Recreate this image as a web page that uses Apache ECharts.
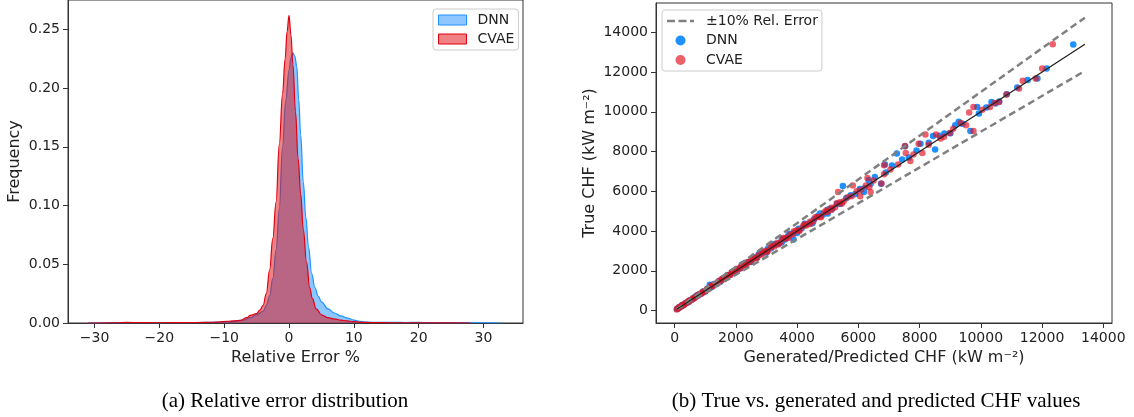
<!DOCTYPE html>
<html>
<head>
<meta charset="utf-8">
<script src="https://cdn.jsdelivr.net/npm/echarts@6.0.0/dist/echarts.min.js"></script>
<style>
html, body { margin: 0; padding: 0; background: #fff; }
#chart { width: 1134px; height: 417px; }
</style>
</head>
<body>
<div id="chart"></div>
<script>
// ---- (a) relative error density (KDE) ----
var dnnX = [-31, -28, -25, -22, -19, -16, -13, -11, -9, -7, -6, -5, -4, -3.5, -3, -2.5, -2, -1.5, -1, -0.5,
	0, 0.3, 0.6, 0.9, 1.2, 1.5, 1.8, 2.2, 2.6, 3.0, 3.5, 4.0, 4.5, 5, 6, 7, 8, 9, 10, 11,
	12, 14, 16, 18, 20, 22, 24, 26, 28, 30, 32.8];
var dnnF = [0, 0.0002, 0.0003, 0.0002, 0.0003, 0.0003, 0.0005, 0.0008, 0.0012, 0.0025, 0.0045, 0.007, 0.010, 0.015, 0.023, 0.038, 0.062, 0.097, 0.150, 0.190,
	0.215, 0.226, 0.230, 0.227, 0.218, 0.19, 0.16, 0.12, 0.09, 0.065, 0.042, 0.030, 0.023, 0.018, 0.012, 0.0085, 0.006, 0.0042, 0.0025, 0.0013,
	0.0008, 0.0005, 0.0006, 0.0004, 0.0005, 0.0003, 0.0004, 0.0003, 0.0002, 0.0002, 0];
var cvaeX = [-31, -27, -25, -23, -20, -17, -15, -13, -11, -9.5, -8.5, -7.5, -6.5, -6, -5, -4.5, -4, -3.5, -3, -2.5,
	-2, -1.5, -1, -0.6, -0.3, 0, 0.3, 0.6, 1.0, 1.4, 1.8, 2.2, 2.7, 3.2, 3.6, 4.2, 5, 6, 7, 8,
	9, 10, 11, 13, 16, 20, 24, 28];
var cvaeF = [0, 0.0002, 0.0005, 0.0003, 0.0002, 0.0004, 0.0003, 0.0005, 0.0008, 0.0015, 0.0018, 0.0022, 0.0045, 0.0065, 0.008, 0.011, 0.015, 0.025, 0.045, 0.072,
	0.103, 0.152, 0.195, 0.225, 0.248, 0.262, 0.245, 0.22, 0.18, 0.14, 0.11, 0.08, 0.052, 0.030, 0.021, 0.012, 0.007, 0.0045, 0.0035, 0.0025,
	0.0018, 0.0012, 0.0006, 0.0003, 0.0002, 0.0002, 0.0001, 0];
var errTicks = [-30, -20, -10, 0, 10, 20, 30];
var freqTicks = [0, 0.05, 0.10, 0.15, 0.20, 0.25];

// ---- (b) true vs generated / predicted CHF, [predicted, true] ----
var dnnPts = [[80, 95], [120, 110], [150, 170], [200, 190], [260, 280], [310, 300], [380, 400], [420, 410], [500, 520], [560, 540],
	[640, 660], [700, 690], [780, 800], [850, 830], [920, 950], [1000, 980], [1080, 1110], [1150, 1300], [1200, 1180], [1280, 1320],
	[1350, 1330], [1430, 1460], [1500, 1490], [1580, 1620], [1650, 1640], [1730, 1760], [1800, 1790], [1880, 1930], [1950, 1940], [2050, 2080],
	[2150, 2130], [2200, 2320], [2300, 2290], [2400, 2450], [2500, 2480], [2620, 2680], [2700, 2690], [2820, 2870], [2950, 2930], [3050, 3120],
	[3150, 3140], [3300, 3330], [3400, 3360], [3500, 3600], [3600, 3580], [3700, 3750], [3884, 3580], [3900, 3920], [4050, 4120], [4150, 4140],
	[4300, 4350], [4450, 4420], [4550, 4600], [4700, 4780], [4850, 4830], [5000, 5070], [5070, 5125], [5150, 5120], [5300, 5380], [5400, 5360],
	[230, 250], [470, 450], [720, 750], [980, 950], [1230, 1270], [1480, 1440], [1730, 1790], [1980, 1930], [2250, 2320], [2500, 2440],
	[2750, 2830], [3000, 2920], [3250, 3350], [3500, 3420], [3750, 3860], [4000, 3900], [4250, 4370], [4500, 4400], [4750, 4880], [5000, 4880],
	[5496, 6267], [5600, 5650], [5750, 5800], [5900, 5870], [6050, 6120], [6180, 5970], [6200, 6150], [6340, 6555], [6400, 6380], [6540, 6720],
	[6746, 6388], [6870, 7345], [6900, 6950], [7100, 7300], [7258, 7898], [7430, 7600], [7529, 8268], [7650, 7700], [7900, 8050], [8030, 8400],
	[8300, 8450], [8440, 8790], [8508, 8100], [8650, 8800], [8810, 8910], [9008, 8924], [9165, 9330], [9280, 9500], [9400, 9400], [9660, 9040],
	[9880, 10250], [9940, 9920], [10180, 10220], [10350, 10500], [10480, 10420], [10600, 10520], [10850, 10880], [11190, 11230], [11530, 11600], [11850, 11680],
	[12150, 12185], [13020, 13395]];
var cvaePts = [[70, 60], [100, 105], [140, 130], [180, 190], [230, 220], [270, 290], [330, 320], [370, 380], [430, 420], [480, 500],
	[530, 520], [590, 610], [650, 630], [700, 720], [760, 740], [820, 840], [880, 860], [940, 960], [1010, 990], [1060, 1090],
	[1120, 1100], [1190, 1220], [1250, 1230], [1320, 1350], [1400, 1380], [1460, 1500], [1530, 1510], [1600, 1640], [1680, 1660], [1750, 1780],
	[1830, 1800], [1900, 1950], [1980, 1960], [2060, 2100], [2140, 2120], [2230, 2270], [2310, 2280], [2400, 2440], [2480, 2460], [2570, 2620],
	[2650, 2630], [2750, 2800], [2850, 2820], [2950, 3000], [3050, 3020], [3150, 3200], [3250, 3230], [3350, 3400], [3450, 3420], [3560, 3610],
	[3660, 3640], [3760, 3810], [3870, 3840], [3980, 4030], [4080, 4060], [4200, 4250], [4300, 4280], [4420, 4470], [4530, 4500], [4650, 4700],
	[4760, 4730], [4880, 4930], [5000, 4970], [5120, 5180], [5240, 5200], [5340, 5970], [5400, 5450], [5520, 5490], [5650, 5700], [5820, 6300],
	[150, 165], [290, 270], [450, 470], [610, 590], [760, 790], [900, 880], [1050, 1030], [1210, 1260], [1380, 1350], [1540, 1590],
	[1700, 1680], [1860, 1910], [2020, 1980], [2180, 2240], [2350, 2310], [2520, 2580], [2690, 2650], [2860, 2930], [3020, 2960], [3200, 3280],
	[3380, 3320], [3550, 3650], [3720, 3660], [3900, 3990], [4070, 4000], [4250, 4350], [4420, 4360], [4600, 4690], [4780, 4700], [4950, 5040],
	[5120, 5060], [5300, 5400], [5460, 5380],
	[5780, 5750], [6060, 5750], [5950, 6000], [6100, 6080], [6300, 6670], [6360, 6220], [6400, 5970], [6250, 6300], [6500, 6550], [6755, 6390],
	[6840, 7310], [6840, 6860], [7050, 7100], [7300, 7350], [7520, 8285], [7550, 7930], [7700, 7530], [7800, 7850], [7970, 8400], [8090, 7930],
	[8190, 8860], [8300, 8350], [8540, 8860], [8690, 8660], [8800, 8750], [8985, 8940], [9100, 9150], [9340, 9445], [9520, 9327], [9620, 9970],
	[9760, 10250], [9760, 9040], [10050, 10100], [10300, 10250], [10450, 10450], [10600, 10500], [10835, 10870], [11250, 11180], [11370, 11560], [11790, 11680],
	[12005, 12185], [12350, 13400]];
var upperLine = [[70, 77], [13400, 14740]];
var lowerLine = [[70, 63], [13400, 12060]];
var identityLine = [[70, 70], [13400, 13400]];
var chfTicks = [0, 2000, 4000, 6000, 8000, 10000, 12000, 14000];

function zip(xs, ys) {
	return xs.map(function(x, i) { return [x, ys[i]]; });
}
function minus(v) { return String(v).replace('-', '\u2212'); }
function plain(v) { return String(v); }

var font = 'DejaVu Sans';
var tickStyle = { length: 5, lineStyle: { color: '#333', width: 1 } };
var axLine = { show: true, onZero: false, lineStyle: { color: '#333' } };
function axisLbl(values, fmt) {
	return { customValues: values, margin: 8, fontSize: 14, color: '#222', fontFamily: font, formatter: fmt };
}
function axisName(gap) {
	return { nameLocation: 'middle', nameGap: gap, nameTextStyle: { fontSize: 16, color: '#222', fontFamily: font } };
}

var chart = echarts.init(document.getElementById('chart'), null, { renderer: 'canvas' });
var option = {
	animation: false,
	textStyle: { fontFamily: font },
	grid: [
		{ left: 68, top: 0, width: 455, height: 323, show: true, borderColor: '#333', borderWidth: 1, backgroundColor: '#fff' },
		{ left: 656, top: 3, width: 456, height: 320, show: true, borderColor: '#333', borderWidth: 1, backgroundColor: '#fff' }
	],
	xAxis: [
		Object.assign({
			type: 'value', gridIndex: 0, min: -34.1, max: 36.1, name: 'Relative Error %',
			splitLine: { show: false }, axisLine: axLine,
			axisTick: Object.assign({ customValues: errTicks }, tickStyle),
			axisLabel: axisLbl(errTicks, minus)
		}, axisName(25)),
		Object.assign({
			type: 'value', gridIndex: 1, min: -607, max: 14285, name: 'Generated/Predicted CHF (kW m\u207B\u00B2)',
			splitLine: { show: false }, axisLine: axLine,
			axisTick: Object.assign({ customValues: chfTicks }, tickStyle),
			axisLabel: axisLbl(chfTicks, plain)
		}, axisName(25))
	],
	yAxis: [
		Object.assign({
			type: 'value', gridIndex: 0, min: 0, max: 0.275, name: 'Frequency',
			splitLine: { show: false }, axisLine: axLine,
			axisTick: Object.assign({ customValues: freqTicks }, tickStyle),
			axisLabel: axisLbl(freqTicks, function(v) { return v.toFixed(2); })
		}, axisName(45)),
		Object.assign({
			type: 'value', gridIndex: 1, min: -625, max: 15477, name: 'True CHF (kW m\u207B\u00B2)',
			splitLine: { show: false }, axisLine: axLine,
			axisTick: Object.assign({ customValues: chfTicks }, tickStyle),
			axisLabel: axisLbl(chfTicks, plain)
		}, axisName(58))
	],
	legend: [{
		left: 433, top: 9, orient: 'vertical', itemWidth: 28, itemHeight: 10, itemGap: 5,
		padding: [4, 4, 4, 5], borderColor: '#ccc', borderWidth: 1, borderRadius: 3,
		backgroundColor: 'rgba(255,255,255,0.8)',
		textStyle: { fontSize: 14, color: '#222', lineHeight: 14, padding: [0, 0, 0, 6] },
		data: [
			{ name: 'DNN', icon: 'rect', itemStyle: { color: 'rgba(30,144,255,0.5)', borderColor: '#1e90ff', borderWidth: 1 } },
			{ name: 'CVAE', icon: 'rect', itemStyle: { color: 'rgba(225,5,10,0.5)', borderColor: '#e00010', borderWidth: 1 } }
		]
	}, {
		left: 662, top: 10, orient: 'vertical', itemWidth: 27, itemHeight: 10, itemGap: 5.5,
		padding: [4, 4, 4, 5], borderColor: '#ccc', borderWidth: 1, borderRadius: 3,
		backgroundColor: 'rgba(255,255,255,0.8)',
		textStyle: { fontSize: 14, color: '#222', lineHeight: 14, padding: [0, 0, 0, 7] },
		data: [
			{ name: '\u00B110% Rel. Error', icon: 'path://M0 0H8V2.4H0Z M11.5 0H19.5V2.4H11.5Z M23 0H27V2.4H23Z', itemStyle: { color: '#808080' } },
			{ name: 'DNN ', icon: 'circle' },
			{ name: 'CVAE ', icon: 'circle' }
		]
	}],
	series: [
		{
			name: 'DNN', type: 'line', xAxisIndex: 0, yAxisIndex: 0, data: zip(dnnX, dnnF),
			smooth: 0.4, smoothMonotone: 'x', symbol: 'none',
			lineStyle: { color: '#1e90ff', width: 1.2 }, itemStyle: { color: '#1e90ff' },
			areaStyle: { color: 'rgba(30,144,255,0.5)', opacity: 1 }, z: 2
		},
		{
			name: 'CVAE', type: 'line', xAxisIndex: 0, yAxisIndex: 0, data: zip(cvaeX, cvaeF),
			smooth: 0.4, smoothMonotone: 'x', symbol: 'none',
			lineStyle: { color: '#e00010', width: 1.2 }, itemStyle: { color: '#e00010' },
			areaStyle: { color: 'rgba(225,5,10,0.5)', opacity: 1 }, z: 3
		},
		{
			name: 'DNN ', type: 'scatter', xAxisIndex: 1, yAxisIndex: 1, data: dnnPts,
			symbolSize: 6.5, itemStyle: { color: '#1e90ff', opacity: 1 }, z: 2
		},
		{
			name: 'CVAE ', type: 'scatter', xAxisIndex: 1, yAxisIndex: 1, data: cvaePts,
			symbolSize: 6.5, itemStyle: { color: 'rgb(225,20,35)', opacity: 0.68 }, z: 3
		},
		{
			name: '\u00B110% Rel. Error', type: 'line', xAxisIndex: 1, yAxisIndex: 1, data: upperLine,
			symbol: 'none', lineStyle: { color: '#808080', width: 2.5, type: [7, 4] }, itemStyle: { color: '#808080' }, z: 4
		},
		{
			name: '\u00B110% Rel. Error', type: 'line', xAxisIndex: 1, yAxisIndex: 1, data: lowerLine,
			symbol: 'none', lineStyle: { color: '#808080', width: 2.5, type: [7, 4] }, itemStyle: { color: '#808080' }, z: 4
		},
		{
			name: 'y = x', type: 'line', xAxisIndex: 1, yAxisIndex: 1, data: identityLine,
			symbol: 'none', lineStyle: { color: '#222', width: 1.3 }, z: 5
		}
	],
	graphic: [
		{ type: 'text', x: 285, y: 401, style: { text: '(a) Relative error distribution', fontSize: 21, fontFamily: 'Liberation Serif', fill: '#000', align: 'center', verticalAlign: 'middle' } },
		{ type: 'text', x: 876, y: 401, style: { text: '(b) True vs. generated and predicted CHF values', fontSize: 21, fontFamily: 'Liberation Serif', fill: '#000', align: 'center', verticalAlign: 'middle' } }
	]
};
chart.setOption(option);
</script>
</body>
</html>
